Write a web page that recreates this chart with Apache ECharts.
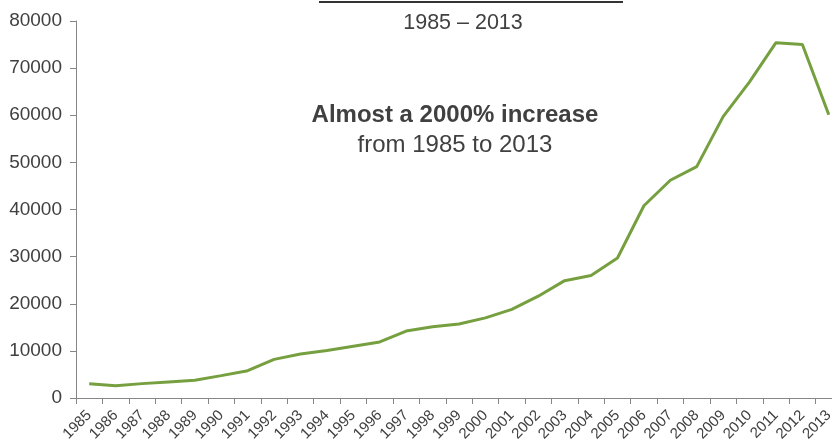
<!DOCTYPE html>
<html><head><meta charset="utf-8">
<script src="https://cdn.jsdelivr.net/npm/echarts@6/dist/echarts.min.js"></script>
<style>html,body{margin:0;padding:0;background:#fff;overflow:hidden;width:832px;height:441px}#c{width:842px;height:441px}</style>
</head><body><div id="c"></div>
<script>
const years = ['1985','1986','1987','1988','1989','1990','1991','1992','1993','1994','1995','1996','1997','1998','1999','2000','2001','2002','2003','2004','2005','2006','2007','2008','2009','2010','2011','2012','2013'];
const values = [3000,2600,3050,3400,3750,4750,5800,8200,9350,10100,11000,11900,14200,15100,15700,17000,18800,21600,24900,26000,29700,40800,46200,49100,59700,67100,75400,75000,60100];
const yTicks = [0,10000,20000,30000,40000,50000,60000,70000,80000];
const subtitle = '1985 – 2013';
const noteBold = 'Almost a 2000% increase';
const noteText = 'from 1985 to 2013';

const chart = echarts.init(document.getElementById('c'));
const axisCol = '#868686';
const txt = '#404040';
chart.setOption({
  animation:false,
  grid:{left:76,right:0,top:21,bottom:43,containLabel:false,outerBoundsMode:'none'},
  title:[{text:subtitle,left:458,top:7,textAlign:'center',textStyle:{fontFamily:'Liberation Sans, Arial',fontSize:21.5,fontWeight:'normal',color:txt}}],
  graphic:[
    {type:'line',shape:{x1:319,y1:2,x2:623,y2:2},style:{stroke:'#333',lineWidth:2}},
    {type:'text',x:455,y:115,style:{text:noteBold,align:'center',verticalAlign:'middle',font:'bold 24px "Liberation Sans", Arial',fill:txt}},
    {type:'text',x:455,y:145,style:{text:noteText,align:'center',verticalAlign:'middle',font:'24px "Liberation Sans", Arial',fill:txt}}
  ],
  xAxis:{type:'category',data:years,boundaryGap:true,
    axisLine:{lineStyle:{color:axisCol,width:1}},
    axisTick:{show:true,alignWithLabel:false,length:6,lineStyle:{color:axisCol}},
    axisLabel:{interval:0,rotate:45,fontSize:15,color:txt,fontFamily:'Liberation Sans, Arial',margin:15}
  },
  yAxis:{type:'value',min:yTicks[0],max:yTicks[yTicks.length-1],interval:10000,
    axisLine:{show:true,lineStyle:{color:axisCol,width:1}},
    axisTick:{show:true,length:6,lineStyle:{color:axisCol}},
    splitLine:{show:false},
    axisLabel:{fontSize:19,color:txt,fontFamily:'Liberation Sans, Arial',margin:14,formatter:v=>String(v)}
  },
  series:[{type:'line',data:values,symbol:'none',lineStyle:{color:'#76A040',width:3}}]
});
</script></body></html>
